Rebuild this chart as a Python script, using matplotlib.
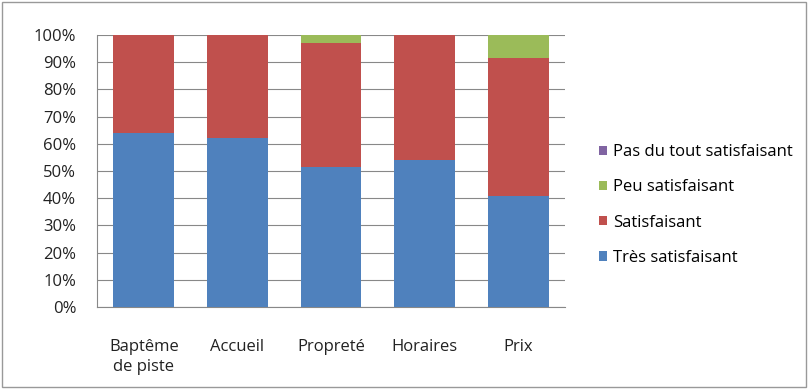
import matplotlib
matplotlib.use("Agg")
import matplotlib.pyplot as plt
from matplotlib.patches import Rectangle

plt.rcParams['font.family'] = ['Open Sans', 'DejaVu Sans']

categories = ["Baptême\nde piste", "Accueil", "Propreté", "Horaires", "Prix"]
tres_satisf = [63.8, 62.2, 51.3, 54.0, 40.7]
satisf = [36.2, 37.8, 45.9, 46.0, 51.0]
peu_satisf = [0.0, 0.0, 2.8, 0.0, 8.3]
pas_du_tout = [0.0, 0.0, 0.0, 0.0, 0.0]

fig = plt.figure(figsize=(8.08, 3.89), dpi=100)
ax = fig.add_axes([97/808, 1 - 307/389, 468/808, 272/389])

x = range(len(categories))
w = 0.65
b1 = ax.bar(x, tres_satisf, w, color="#4F81BD", label="Très satisfaisant", zorder=3)
bottom = tres_satisf
b2 = ax.bar(x, satisf, w, bottom=bottom, color="#C0504D", label="Satisfaisant", zorder=3)
bottom = [a + b for a, b in zip(bottom, satisf)]
b3 = ax.bar(x, peu_satisf, w, bottom=bottom, color="#9BBB59", label="Peu satisfaisant", zorder=3)
bottom = [a + b for a, b in zip(bottom, peu_satisf)]
b4 = ax.bar(x, pas_du_tout, w, bottom=bottom, color="#8064A2", label="Pas du tout satisfaisant", zorder=3)

fs = 12
ax.set_ylim(0, 100)
ax.set_xlim(-0.5, len(categories) - 0.5)
ax.set_yticks(range(0, 101, 10))
ax.set_yticklabels([f"{v}%" for v in range(0, 101, 10)], fontsize=fs, color="#222222")
ax.set_xticks(list(x))
ax.set_xticklabels(categories, fontsize=fs, color="#222222", linespacing=1.3)
ax.tick_params(axis="x", length=0, pad=23)
ax.tick_params(axis="y", length=0, pad=15)
ax.grid(axis="y", color="#888888", linewidth=0.8, zorder=0)
for s in ["top", "right"]:
    ax.spines[s].set_visible(False)
ax.spines["left"].set_color("#888888")
ax.spines["bottom"].set_color("#888888")

handles = [b4, b3, b2, b1]
fig.legend(handles=handles, labels=[h.get_label() for h in handles],
           loc="center left", bbox_to_anchor=(584/808, 1 - 205/389),
           frameon=False, fontsize=fs, handlelength=0.5, handleheight=0.5,
           handletextpad=0.35, labelspacing=1.15)

fig.patches.append(Rectangle((0.003, 0.005), 0.994, 0.99, transform=fig.transFigure,
                             fill=False, edgecolor="#999999", linewidth=1))

fig.savefig("out.png", dpi=100)
